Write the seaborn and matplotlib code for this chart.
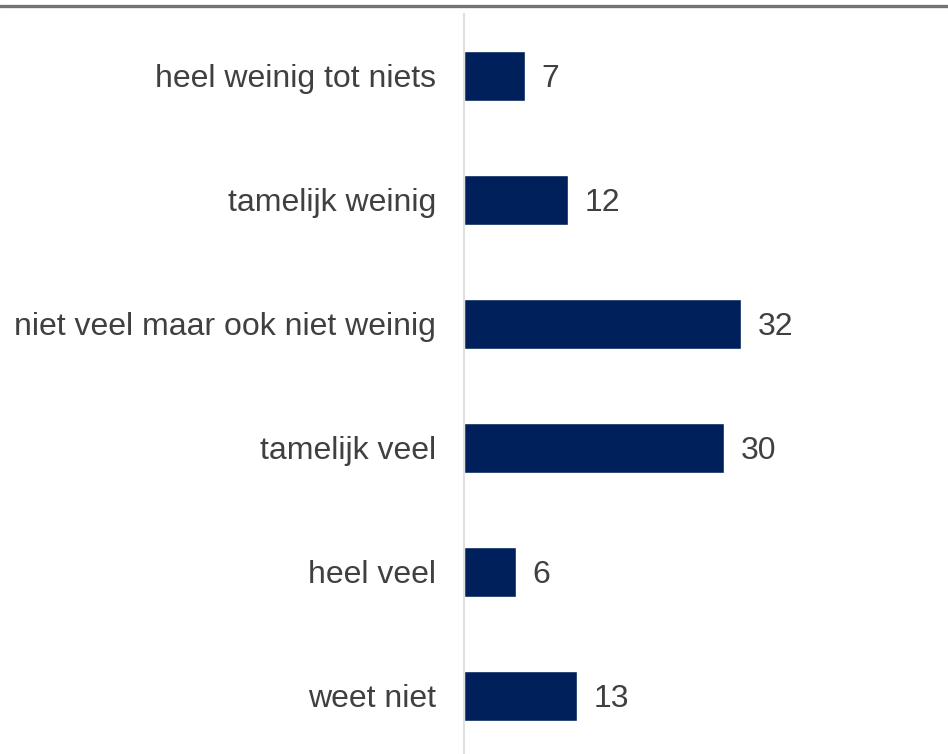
import matplotlib
matplotlib.use("Agg")
import matplotlib.pyplot as plt
import seaborn as sns
import pandas as pd

categories = ["heel weinig tot niets", "tamelijk weinig", "niet veel maar ook niet weinig",
              "tamelijk veel", "heel veel", "weet niet"]
values = [7, 12, 32, 30, 6, 13]

sns.set_theme(style="white")
plt.rcParams['font.family'] = ['Liberation Sans', 'DejaVu Sans']

df = pd.DataFrame({"cat": categories, "val": values})

W, H = 948, 754
fig = plt.figure(figsize=(W / 100, H / 100), dpi=100)
ax = fig.add_axes([464 / W, 0, (W - 464) / W, (754 - 14) / H])

sns.barplot(data=df, y="cat", x="val", orient="h", color="#00205c", saturation=1,
            width=0.4, ax=ax)

ax.set_xlim(0, (W - 464) / 8.66)
ax.set_ylim(5.5 - 4 / 124, -0.5)
ax.set_xlabel("")
ax.set_ylabel("")
ax.set_xticks([])
for s in ["top", "right", "bottom"]:
    ax.spines[s].set_visible(False)
ax.spines["left"].set_color("#e0e0e0")
ax.spines["left"].set_linewidth(1.5)
ax.tick_params(axis="y", length=0, pad=20, labelsize=23, labelcolor="#404040")
for lbl in ax.get_yticklabels():
    lbl.set_verticalalignment("center_baseline")

for i, v in enumerate(values):
    ax.text(v + 1.95, i, str(v), va="center_baseline", ha="left", fontsize=23, color="#404040")

fig.add_artist(plt.Line2D([0, 1], [1 - 5.5 / H, 1 - 5.5 / H], transform=fig.transFigure,
                          color="#737373", linewidth=2.4))

fig.savefig("out.png", dpi=100)
